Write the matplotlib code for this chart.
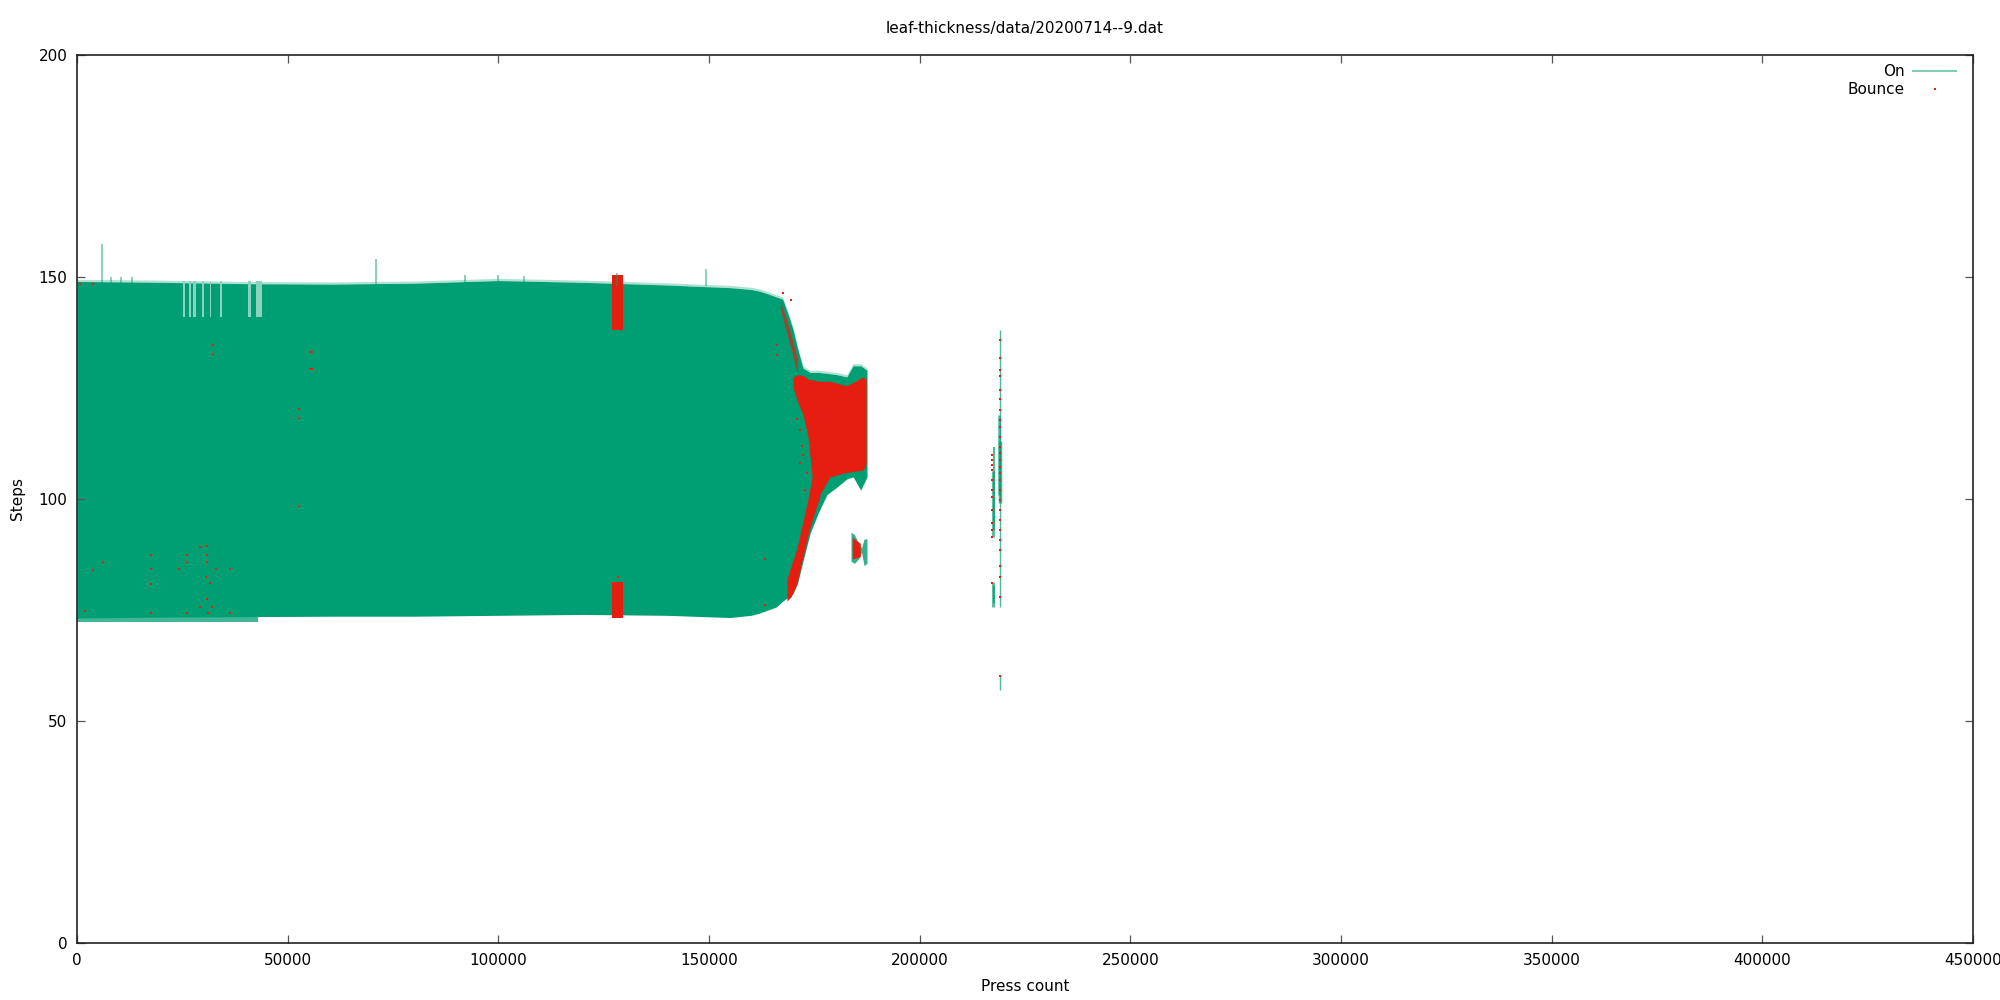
import matplotlib
matplotlib.use("Agg")
import matplotlib.pyplot as plt
from matplotlib.lines import Line2D

GREEN = "#009E73"
RED = "#E51E10"
OUT_FILE = "out.png"

# "On" envelope: press count vs. min/max steps of the dense band
BAND_X = [0, 20000, 40000, 60000, 80000, 100000, 120000, 140000, 155000,
          160000, 162000, 164000, 166000, 167500, 169000, 170000, 171000,
          172300, 174000, 176000, 178000, 180400, 182700, 184200, 186000, 187500]
BAND_HIGH = [149.0, 148.8, 148.5, 148.4, 148.6, 149.2, 148.8, 148.2, 147.6,
             147.2, 146.8, 146.2, 145.5, 145.0, 141.0, 138.0, 134.0,
             129.5, 128.5, 128.5, 128.3, 128.0, 127.5, 130.0, 130.0, 129.0]
BAND_LOW = [73.2, 73.4, 73.5, 73.6, 73.6, 73.8, 74.0, 73.8, 73.3,
            73.8, 74.3, 75.0, 75.7, 77.0, 78.0, 78.8, 81.0,
            86.0, 92.3, 97.0, 101.0, 102.7, 104.5, 105.0, 102.0, 105.0]
# early part dips a little lower (streaks)
LOW_FRINGE_X = [0, 43000]
LOW_FRINGE_Y = [72.3, 72.3]

# gaps along the top of the band (top only reaches 141 there)
GAP_START = [25100, 26600, 27600, 29700, 31500, 34000, 40600, 42400]
GAP_END = [25700, 27100, 28300, 30100, 31900, 34300, 41400, 43900]
GAP_TOP = 149
GAP_BOTTOM = 141

# single tall readings
SPIKE_X = [5900, 8000, 10500, 13000, 71000, 92000, 100000, 106000, 128200, 149400]
SPIKE_Y = [157.5, 150, 150, 150, 154, 150.5, 150.5, 150.3, 151, 151.8]

# small separate cluster at the end of the run
CLUSTER_X = [183700, 184500, 185500, 186200, 186800, 187500]
CLUSTER_HIGH = [92.5, 92.0, 90.0, 89.0, 91.0, 91.0]
CLUSTER_LOW = [86.0, 85.5, 86.5, 88.0, 85.0, 85.5]

# late readings around 217000-219000 (segments: x, y0, y1)
LATE_X = [219100, 219100, 218800, 217300, 217600, 217300, 217600, 219100]
LATE_Y0 = [75.7, 99.0, 101.0, 91.4, 93.0, 75.7, 76.5, 57.0]
LATE_Y1 = [138.0, 113.0, 119.0, 106.4, 111.7, 81.4, 80.5, 60.4]
LATE_W = [1.0, 2.5, 1.8, 2.0, 1.5, 2.0, 1.5, 1.0]

# "Bounce" dense areas
BLOB_X = [170000, 171000, 172300, 173500, 174700, 176300, 178700, 182700, 186600, 187300]
BLOB_TOP = [127.5, 128.0, 127.8, 127.0, 126.8, 126.5, 126.5, 125.5, 127.5, 127.0]
BLOB_BOT = [125.0, 122.0, 119.0, 114.0, 103.0, 101.0, 105.0, 106.0, 106.5, 108.0]
STRIPE_X = [168500, 169500, 170900, 172300, 173500, 174700, 176300]
STRIPE_TOP = [82.0, 85.0, 89.0, 95.0, 100.0, 106.0, 106.0]
STRIPE_BOT = [77.0, 78.0, 81.0, 87.0, 92.0, 96.0, 100.5]
EDGE_X = [167000, 168000, 169000, 170000, 171000]
EDGE_TOP = [144.5, 141.5, 138.5, 135.0, 131.5]
EDGE_BOT = [142.5, 139.0, 135.5, 132.0, 128.0]
COLUMN_X = [126900, 129700]
COLUMN_TOP_HI = 150.4
COLUMN_TOP_LO = 138.0
COLUMN_BOT_HI = 81.3
COLUMN_BOT_LO = 73.2
SMALL_RED_X = [184000, 185900]
SMALL_RED_TOP = [91.4, 90.0]
SMALL_RED_BOT = [86.5, 87.0]

# "Bounce" single points
BOUNCE_X = [700, 3700, 3700, 6100, 17560, 17560, 17560, 24200, 26000, 26000,
            29200, 30800, 30800, 30800, 30600, 31500, 30800, 29200, 32000, 33000,
            36300, 36300, 2000, 17560, 26000, 31000, 32200, 32200, 52600, 52600,
            52600, 55300, 55300, 55800, 55800, 163300, 163300, 128300,
            166100, 166100, 167500, 169400, 171600, 172200, 173200, 171000,
            172000, 173000, 171500, 173800, 172800,
            219100, 219100, 219100, 219100, 219100, 219100, 219100, 219100,
            219100, 219100, 219100, 219100, 219100, 219100, 219100, 219100,
            219100, 219100, 219100, 219100, 219100, 219100, 219100, 219100,
            219100, 219100,
            217200, 217200, 217200, 217200, 217200, 217200, 217200, 217200,
            217200, 217200, 217200, 217200]
BOUNCE_Y = [148.4, 148.4, 84.0, 85.8, 87.5, 84.3, 80.9, 84.3, 87.5, 85.8,
            89.3, 89.4, 87.5, 85.8, 82.5, 81.0, 77.5, 75.7, 75.7, 84.3,
            84.3, 74.4, 74.8, 74.4, 74.4, 74.4, 134.7, 132.7, 120.3, 118.3,
            98.5, 133.2, 129.2, 133.2, 129.2, 86.5, 76.2, 82.5,
            134.7, 132.4, 146.3, 144.8, 115.5, 110.0, 105.9, 118.0,
            112.0, 120.5, 108.0, 116.0, 102.0,
            135.8, 131.7, 129.1, 127.6, 124.6, 122.5, 120.0, 117.8,
            116.3, 114.0, 111.8, 110.3, 108.8, 107.3, 105.8, 104.3,
            102.0, 99.8, 97.5, 95.3, 93.0, 90.8, 88.5, 84.8,
            82.5, 78.0,
            109.9, 108.8, 107.6, 106.5, 104.3, 102.0, 100.5, 97.5,
            94.5, 93.0, 91.5, 81.0]
BOUNCE_LATE_X = [219100]
BOUNCE_LATE_Y = [60.1]


def main():
    plt.rcParams["font.family"] = "DejaVu Sans"
    plt.rcParams["font.size"] = 11
    fig = plt.figure(figsize=(20, 10), dpi=100)
    ax = fig.add_axes([0.0385, 0.057, 0.948, 0.888])

    # On
    ax.fill_between(BAND_X, BAND_HIGH, [h + 0.5 for h in BAND_HIGH],
                    color=GREEN, alpha=0.3, lw=0)
    ax.fill_between(LOW_FRINGE_X, LOW_FRINGE_Y, [74.0] * len(LOW_FRINGE_X),
                    color=GREEN, alpha=0.75, lw=0)
    ax.fill_between(BAND_X, BAND_LOW, BAND_HIGH, color=GREEN, lw=0)
    for x0, x1 in zip(GAP_START, GAP_END):
        ax.fill_between([x0, x1], GAP_BOTTOM, GAP_TOP, color="white", lw=0)
        ax.fill_between([x0, x1], GAP_BOTTOM, GAP_TOP, color=GREEN, alpha=0.45, lw=0)
    ax.vlines(SPIKE_X, [148] * len(SPIKE_X), SPIKE_Y, color=GREEN, alpha=0.55, lw=1.2)
    ax.fill_between(CLUSTER_X, CLUSTER_LOW, CLUSTER_HIGH, color=GREEN, alpha=0.8, lw=0)
    for x, y0, y1, w in zip(LATE_X, LATE_Y0, LATE_Y1, LATE_W):
        ax.vlines(x, y0, y1, color=GREEN, alpha=0.7, lw=w)

    # Bounce
    ax.fill_between(BLOB_X, BLOB_BOT, BLOB_TOP, color=RED, lw=0)
    ax.fill_between(STRIPE_X, STRIPE_BOT, STRIPE_TOP, color=RED, lw=0)
    ax.fill_between(EDGE_X, EDGE_BOT, EDGE_TOP, color=RED, alpha=0.7, lw=0)
    ax.fill_between(COLUMN_X, COLUMN_TOP_LO, COLUMN_TOP_HI, color=RED, lw=0)
    ax.fill_between(COLUMN_X, COLUMN_BOT_LO, COLUMN_BOT_HI, color=RED, lw=0)
    ax.fill_between(SMALL_RED_X, SMALL_RED_BOT, SMALL_RED_TOP, color=RED, lw=0)
    ax.plot(BOUNCE_X, BOUNCE_Y, ls="none", marker="s", ms=1.6, mew=0, color=RED)
    ax.plot(BOUNCE_LATE_X, BOUNCE_LATE_Y, ls="none", marker="s", ms=1.6, mew=0, color=RED)

    ax.set_xlim(0, 450000)
    ax.set_ylim(0, 200)
    ax.set_xticks(range(0, 450001, 50000))
    ax.set_yticks(range(0, 201, 50))
    ax.tick_params(direction="in", top=True, right=True, length=6, width=0.9,
                   color="#555555", pad=7)
    for s in ax.spines.values():
        s.set_linewidth(1.2)
        s.set_color("#222222")

    ax.set_title("leaf-thickness/data/20200714--9.dat", fontsize=11, pad=16)
    ax.set_xlabel("Press count", labelpad=8)
    ax.set_ylabel("Steps", labelpad=10)

    handles = [
        Line2D([], [], color=GREEN, alpha=0.5, lw=1.5),
        Line2D([], [], ls="none", marker="s", ms=1.6, mew=0, color=RED),
    ]
    ax.legend(handles, ["On", "Bounce"], loc="upper right",
              bbox_to_anchor=(0.996, 1.0), frameon=False, markerfirst=False,
              handlelength=2.8, handletextpad=0.6, labelspacing=0.2,
              borderaxespad=0.2)

    fig.savefig(OUT_FILE, dpi=100)


if __name__ == "__main__":
    main()
